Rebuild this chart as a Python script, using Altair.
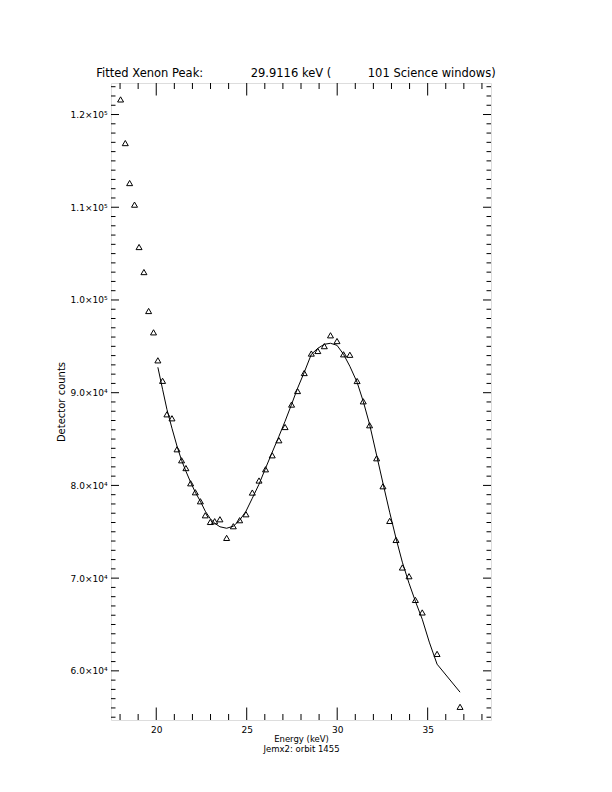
import altair as alt
import pandas as pd

# ---- data ----
energy = [18.03, 18.29, 18.53, 18.80, 19.05, 19.32, 19.58, 19.85, 20.09, 20.35,
          20.59, 20.87, 21.15, 21.40, 21.64, 21.90, 22.16, 22.44, 22.71, 22.99,
          23.23, 23.52, 23.89, 24.26, 24.61, 24.96, 25.31, 25.68, 26.04, 26.41,
          26.78, 27.12, 27.48, 27.81, 28.18, 28.57, 28.93, 29.29, 29.63, 29.99,
          30.35, 30.70, 31.10, 31.44, 31.79, 32.18, 32.53, 32.90, 33.25, 33.60,
          33.97, 34.32, 34.70, 35.52, 36.79]
counts = [121630, 116920, 112610, 110280, 105710, 103010, 98810, 96510, 93490, 91280,
          87670, 87240, 83900, 82710, 81870, 80230, 79260, 78290, 76780, 76060,
          76140, 76350, 74340, 75600, 76250, 76890, 79230, 80530, 81740, 83250,
          84870, 86300, 88720, 90180, 92120, 94220, 94500, 95020, 96190, 95570,
          94140, 94090, 91260, 89070, 86490, 82930, 79910, 76170, 74120, 71150,
          70210, 67650, 66300, 61830, 56120]

fit_energy = [20.09, 20.35, 20.59, 20.87, 21.15, 21.40, 21.64, 21.90, 22.16, 22.44,
              22.71, 22.99, 23.23, 23.52, 23.89, 24.26, 24.61, 24.96, 25.31, 25.68,
              26.04, 26.41, 26.78, 27.12, 27.48, 27.81, 28.18, 28.57, 28.93, 29.29,
              29.63, 29.99, 30.35, 30.70, 31.10, 31.44, 31.79, 32.18, 32.53, 32.90,
              33.25, 33.60, 33.97, 34.32, 34.70, 35.09, 35.52, 36.79]
fit_counts = [92740, 90370, 88210, 86160, 84220, 82710, 81530, 80340, 79260, 78290,
              77220, 76410, 75920, 75540, 75380, 75600, 76250, 77220, 78620, 80130,
              81850, 83580, 85300, 86920, 88750, 90480, 92200, 94140, 94790, 95220,
              95330, 95110, 94140, 92850, 91120, 89070, 86590, 83250, 80230, 77110,
              74300, 71720, 69450, 67510, 65570, 63100, 60720, 57700]

x_major = [20, 25, 30, 35]
x_minor = [v for v in range(18, 39) if v % 5 != 0]
y_major = [60000, 70000, 80000, 90000, 100000, 110000, 120000]
y_minor = [v for v in range(55000, 124000, 1000) if v % 10000 != 0]

title_text = ("Fitted Xenon Peak:" + "\u00a0" * 13 + "29.9116 keV (" + "\u00a0" * 10
              + "101 Science windows)")
x_title = ["Energy (keV)", "Jemx2: orbit 1455"]
y_title = "Detector counts"

W, H = 380, 637
FONT = "DejaVu Sans"

pts = pd.DataFrame({"e": energy, "c": counts})
fit = pd.DataFrame({"e": fit_energy, "c": fit_counts})

xs = alt.Scale(domain=[17.5, 38.5], nice=False, zero=False)
ys = alt.Scale(domain=[54700, 123400], nice=False, zero=False)

x_axis = alt.Axis(values=x_major, ticks=False, tickSize=0, domain=False, grid=False,
                  labelFontSize=9, labelPadding=5, labelFont=FONT, labelColor="black",
                  title=x_title, titleFont=FONT, titleFontSize=8.5, titleFontWeight="normal",
                  titleColor="black", titleBaseline="top", titleY=14, titleLineHeight=10)
y_axis = alt.Axis(values=y_major, ticks=False, tickSize=0, domain=False, grid=False,
                  labelFontSize=9, labelPadding=4, labelFont=FONT, labelColor="black",
                  labelExpr="datum.value >= 100000 ? format(datum.value/100000, '.1f') + '×10⁵' : format(datum.value/10000, '.1f') + '×10⁴'",
                  title=y_title, titleFont=FONT, titleFontSize=10, titleFontWeight="normal",
                  titleColor="black", titleX=-50, titleY=H / 2, titleAngle=-90,
                  titleBaseline="middle", titleAlign="center")

points = alt.Chart(pts).mark_point(shape="triangle-up", size=36, filled=False,
                                    color="black", strokeWidth=1, opacity=1).encode(
    x=alt.X("e:Q", scale=xs, axis=x_axis),
    y=alt.Y("c:Q", scale=ys, axis=y_axis),
)
line = alt.Chart(fit).mark_line(color="black", strokeWidth=1).encode(
    x=alt.X("e:Q", scale=xs, axis=None),
    y=alt.Y("c:Q", scale=ys, axis=None),
)


def xticks(vals, length):
    df = pd.DataFrame({"v": vals})
    base = alt.Chart(df).mark_rule(color="black", strokeWidth=1)
    bottom = base.encode(x=alt.X("v:Q", scale=xs, axis=None),
                         y=alt.value(H), y2=alt.value(H - length))
    top = base.encode(x=alt.X("v:Q", scale=xs, axis=None),
                      y=alt.value(0), y2=alt.value(length))
    return [bottom, top]


def yticks(vals, length):
    df = pd.DataFrame({"v": vals})
    base = alt.Chart(df).mark_rule(color="black", strokeWidth=1)
    left = base.encode(y=alt.Y("v:Q", scale=ys, axis=None),
                       x=alt.value(0), x2=alt.value(length))
    right = base.encode(y=alt.Y("v:Q", scale=ys, axis=None),
                        x=alt.value(W - length), x2=alt.value(W))
    return [left, right]


layers = ([points, line] + xticks(x_major, 12.5) + xticks(x_minor, 6)
          + yticks(y_major, 8) + yticks(y_minor, 4.5))

chart = alt.layer(*layers).resolve_axis(x="independent", y="independent").properties(
    width=W, height=H,
    autosize=alt.AutoSizeParams(type="none"),
    padding={"left": 103, "top": 75, "right": 100, "bottom": 50},
    title=alt.Title(title_text, font=FONT, fontSize=11.5, fontWeight="normal",
                    color="black", anchor="middle", offset=3, dx=-5),
).configure_view(stroke="black", strokeWidth=1).configure(background="white")

chart.save("out.html", embed_options={"renderer": "svg", "actions": False})
